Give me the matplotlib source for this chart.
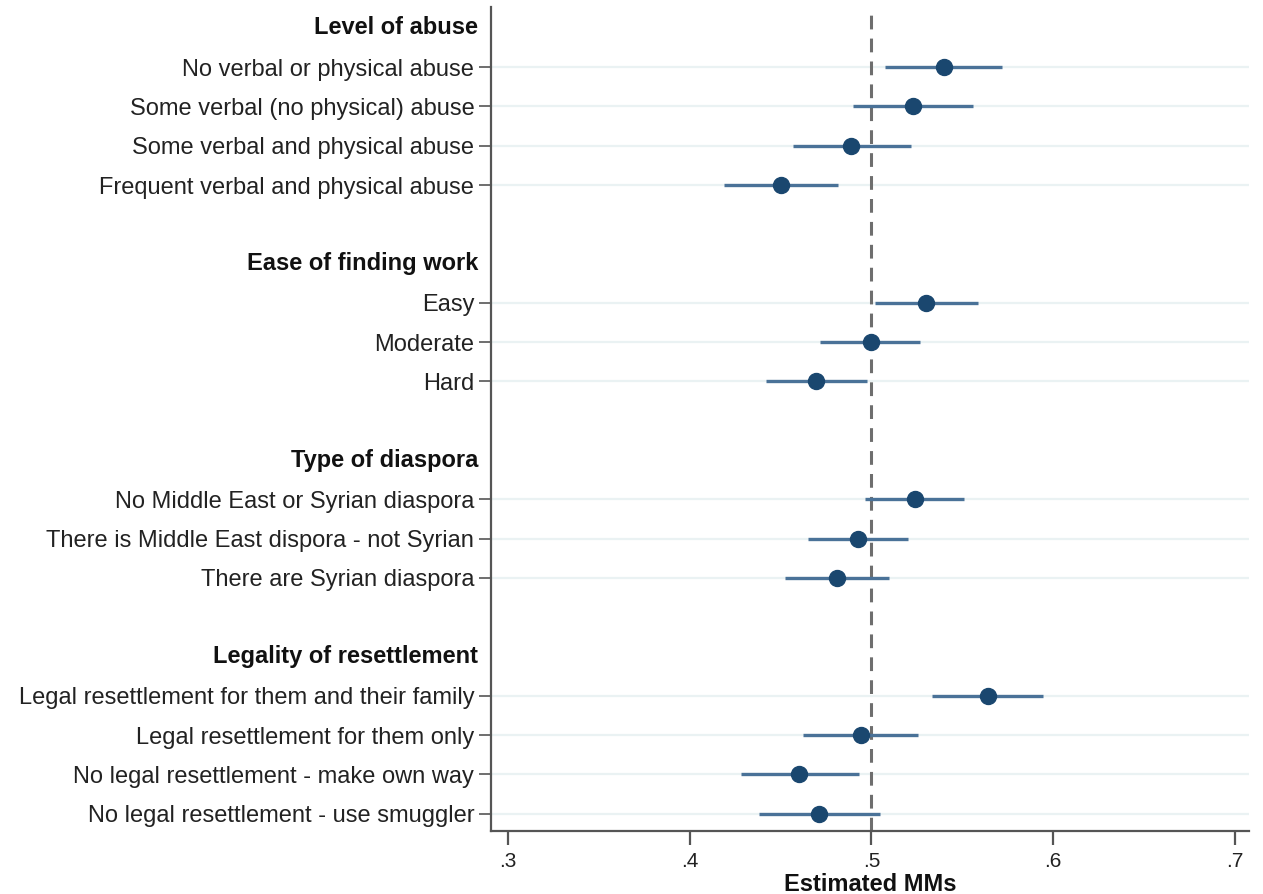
import matplotlib
matplotlib.use("Agg")
import matplotlib.pyplot as plt
import numpy as np

plt.rcParams['font.family'] = ['Liberation Sans', 'DejaVu Sans']

headers = ["Level of abuse", "Ease of finding work", "Type of diaspora", "Legality of resettlement"]
groups = [
    ["No verbal or physical abuse", "Some verbal (no physical) abuse",
     "Some verbal and physical abuse", "Frequent verbal and physical abuse"],
    ["Easy", "Moderate", "Hard"],
    ["No Middle East or Syrian diaspora", "There is Middle East dispora - not Syrian",
     "There are Syrian diaspora"],
    ["Legal resettlement for them and their family", "Legal resettlement for them only",
     "No legal resettlement - make own way", "No legal resettlement - use smuggler"],
]
estimates = [
    [0.5397, 0.5227, 0.4890, 0.4500],
    [0.5302, 0.5000, 0.4696],
    [0.5238, 0.4925, 0.4808],
    [0.5639, 0.4940, 0.4604, 0.4714],
]
ci_low = [
    [0.5077, 0.4899, 0.4570, 0.4189],
    [0.5022, 0.4716, 0.4418],
    [0.4963, 0.4650, 0.4522],
    [0.5333, 0.4623, 0.4280, 0.4381],
]
ci_high = [
    [0.5718, 0.5559, 0.5218, 0.4815],
    [0.5584, 0.5269, 0.4978],
    [0.5507, 0.5200, 0.5095],
    [0.5945, 0.5254, 0.4930, 0.5049],
]
xticks = [0.3, 0.4, 0.5, 0.6, 0.7]
xticklabels = [".3", ".4", ".5", ".6", ".7"]

FS = 17
fig = plt.figure(figsize=(12.63, 8.94), dpi=100)
ax = fig.add_axes([491/1263, (894-831)/894, (1249-491)/1263, (831-7)/894])

pos = 0
row_pos, row_labels, hdr_pos = [], [], []
est_all, lo_all, hi_all = [], [], []
for g, h in enumerate(headers):
    hdr_pos.append(pos)
    pos += 1
    for i, lab in enumerate(groups[g]):
        row_pos.append(pos)
        row_labels.append(lab)
        est_all.append(estimates[g][i])
        lo_all.append(ci_low[g][i])
        hi_all.append(ci_high[g][i])
        pos += 1
    pos += 1

row_pos = np.array(row_pos)
for y in row_pos:
    ax.axhline(y, color='#eaf2f3', lw=1.6, zorder=0)

ax.axvline(0.5, color='#6e6e6e', lw=2.2, ls=(0, (4.5, 3)), zorder=1)
ax.hlines(row_pos, lo_all, hi_all, color='#4a7298', lw=2.4, zorder=2)
ax.plot(est_all, row_pos, 'o', color='#1a476f', ms=11.5, zorder=3)

ax.set_yticks(row_pos)
ax.set_yticklabels(row_labels, fontsize=FS, color='#222222')
for y, h in zip(hdr_pos, headers):
    ax.text(-13/758, y, h, transform=ax.get_yaxis_transform(), ha='right', va='center',
            fontsize=FS, fontweight='bold', color='#111111')

ax.set_ylim(20.44, -0.53)
ax.set_xlim(0.2907, 0.7077)
ax.set_xticks(xticks)
ax.set_xticklabels(xticklabels, fontsize=15, color='#222222')

fig.text(870/1263, (894-891)/894, "Estimated MMs", ha='center', va='baseline',
         fontsize=FS, fontweight='bold', color='#111111')

for s in ['top', 'right']:
    ax.spines[s].set_visible(False)
for s in ['left', 'bottom']:
    ax.spines[s].set_color('#555555')
    ax.spines[s].set_linewidth(1.6)
ax.tick_params(axis='y', length=9, width=1.2, color='#555555', pad=3)
ax.tick_params(axis='x', length=10, width=1.6, color='#555555', pad=5)

fig.savefig("out.png", dpi=100)
